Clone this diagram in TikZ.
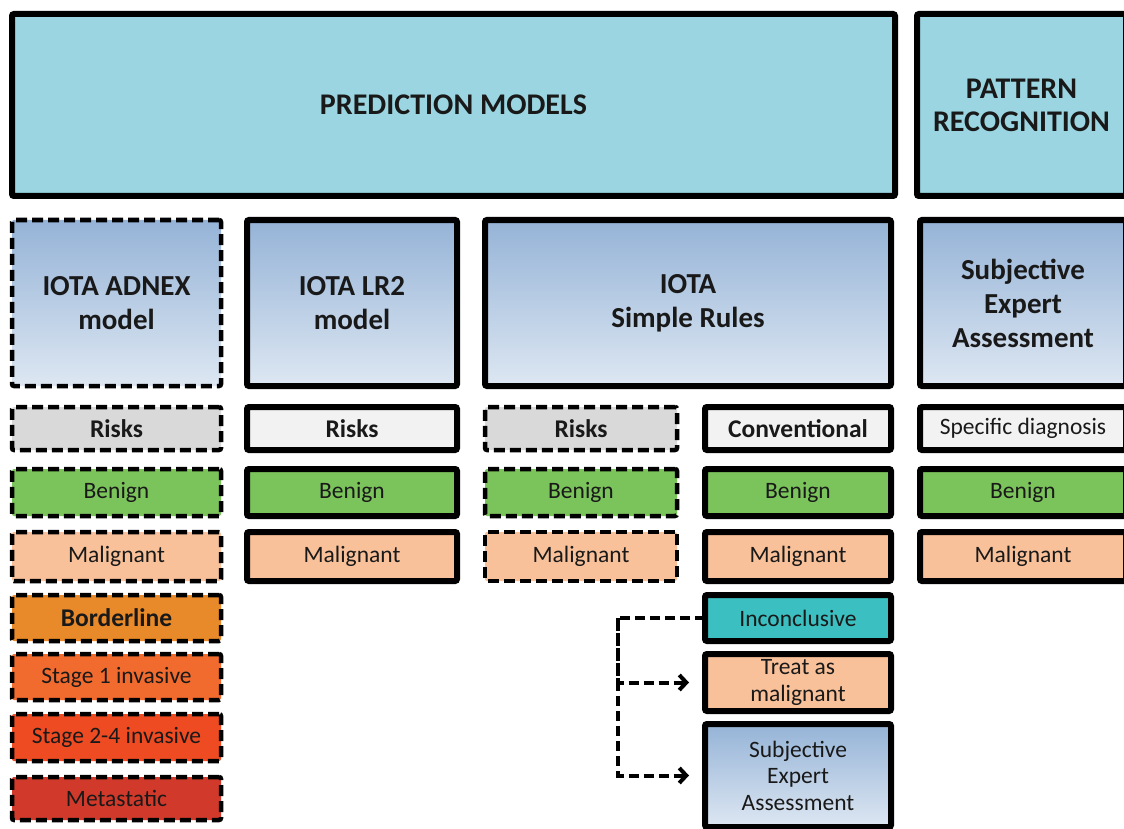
\documentclass[tikz,border=0pt]{standalone}
\usepackage{fontspec}
\setmainfont{Carlito}
\usetikzlibrary{positioning,arrows.meta}

\definecolor{headcyan}{HTML}{9AD5E1}
\definecolor{modeltop}{HTML}{95B3D7}
\definecolor{modelbot}{HTML}{DDE7F2}
\definecolor{riskgray}{HTML}{D9D9D9}
\definecolor{convgray}{HTML}{F2F2F2}
\definecolor{benigngreen}{HTML}{7BC35B}
\definecolor{malpeach}{HTML}{F8C19A}
\definecolor{bordorange}{HTML}{E8892A}
\definecolor{stageone}{HTML}{F26B2E}
\definecolor{stagetwo}{HTML}{EE4B22}
\definecolor{metared}{HTML}{D13A2B}
\definecolor{inconteal}{HTML}{3BBFC0}

\begin{document}
\begin{tikzpicture}[x=1pt,y=1pt,
    box/.style={draw=black,line width=6pt,rounded corners=2pt,inner sep=2pt,
      outer sep=0pt,align=center,text=black!90},
    dbox/.style={box,line width=4.5pt,dash pattern=on 11pt off 5pt},
    model/.style={top color=modeltop,bottom color=modelbot},
    head/.style={font=\bfseries\fontsize{30}{33}\selectfont},
    title/.style={font=\bfseries\fontsize{29}{34}\selectfont},
    label/.style={font=\bfseries\fontsize{25.5}{28}\selectfont},
    small/.style={font=\fontsize{23.5}{26.5}\selectfont},
    link/.style={line width=4pt,dash pattern=on 10pt off 5pt,
      -{Straight Barb[length=7pt,width=15pt]},shorten >=16pt}]

  \useasboundingbox[fill=white] (0,0) rectangle (1124,-829);

  % top row
  \node[box,head,fill=headcyan,minimum width=883pt,minimum height=182pt] (pm) at (453.5,-105) {PREDICTION MODELS};
  \node[box,head,fill=headcyan,minimum width=209pt,minimum height=182pt] (pr) at (1021.5,-105) {PATTERN\\RECOGNITION};

  % methods
  \node[dbox,title,model,minimum width=209pt,minimum height=166pt] (adnex) at (116.5,-303) {IOTA ADNEX\\model};
  \node[box,title,model,minimum width=210pt,minimum height=166pt] (lr2) at (352,-303) {IOTA LR2\\model};
  \node[box,title,model,minimum width=406pt,minimum height=166pt] (sr) at (688,-303) {IOTA\\Simple Rules};
  \node[box,title,model,minimum width=206pt,minimum height=166pt] (sea) at (1023,-303) {Subjective\\Expert\\Assessment};

  % ADNEX column
  \node[dbox,label,fill=riskgray,minimum width=209pt,minimum height=43pt] (adrisk) [below=21pt of adnex] {Risks};
  \node[dbox,small,fill=benigngreen,minimum width=209pt,minimum height=47pt] (adben) [below=19pt of adrisk] {Benign};
  \node[dbox,small,fill=malpeach,minimum width=209pt,minimum height=49pt] (admal) [below=16pt of adben] {Malignant};
  \node[dbox,label,fill=bordorange,minimum width=209pt,minimum height=46pt] (adbord) [below=14pt of admal] {Borderline};
  \node[dbox,small,fill=stageone,minimum width=209pt,minimum height=46pt] (adone) [below=13pt of adbord] {Stage 1 invasive};
  \node[dbox,small,fill=stagetwo,minimum width=209pt,minimum height=47pt] (adtwo) [below=14pt of adone] {Stage 2-4 invasive};
  \node[dbox,small,fill=metared,minimum width=209pt,minimum height=43pt] (admeta) [below=16pt of adtwo] {Metastatic};

  % LR2 column
  \node[box,label,fill=convgray,minimum width=210pt,minimum height=43pt] (lrrisk) [below=21pt of lr2] {Risks};
  \node[box,small,fill=benigngreen,minimum width=210pt,minimum height=47pt] (lrben) [below=19pt of lrrisk] {Benign};
  \node[box,small,fill=malpeach,minimum width=210pt,minimum height=49pt] (lrmal) [below=16pt of lrben] {Malignant};

  % Simple Rules columns
  \node[dbox,label,fill=riskgray,minimum width=192pt,minimum height=43pt] (srrisk) [below right=21pt and 0pt of sr.south west] {Risks};
  \node[dbox,small,fill=benigngreen,minimum width=192pt,minimum height=47pt] (srben) [below=19pt of srrisk] {Benign};
  \node[dbox,small,fill=malpeach,minimum width=192pt,minimum height=49pt] (srmal) [below=16pt of srben] {Malignant};

  \node[box,label,fill=convgray,minimum width=186pt,minimum height=43pt] (conv) [below left=21pt and 0pt of sr.south east] {Conventional};
  \node[box,small,fill=benigngreen,minimum width=186pt,minimum height=47pt] (convben) [below=19pt of conv] {Benign};
  \node[box,small,fill=malpeach,minimum width=186pt,minimum height=49pt] (convmal) [below=16pt of convben] {Malignant};
  \node[box,small,fill=inconteal,minimum width=186pt,minimum height=46pt] (incon) [below=14pt of convmal] {Inconclusive};
  \node[box,small,fill=malpeach,minimum width=186pt,minimum height=57pt] (treat) [below=13pt of incon] {Treat as\\malignant};
  \node[box,small,model,minimum width=186pt,minimum height=103pt] (seatwo) [below=13pt of treat] {Subjective\\Expert\\Assessment};

  % pattern recognition column
  \node[box,small,fill=convgray,minimum width=206pt,minimum height=43pt] (spec) [below=21pt of sea] {Specific diagnosis};
  \node[box,small,fill=benigngreen,minimum width=206pt,minimum height=47pt] (seaben) [below=19pt of spec] {Benign};
  \node[box,small,fill=malpeach,minimum width=206pt,minimum height=49pt] (seamal) [below=16pt of seaben] {Malignant};

  % inconclusive -> next step
  \coordinate[left=87pt of incon.west] (bend);
  \draw[link] (incon.west) -- (bend) |- (seatwo.west);
  \draw[link] (bend) |- (treat.west);
\end{tikzpicture}
\end{document}
